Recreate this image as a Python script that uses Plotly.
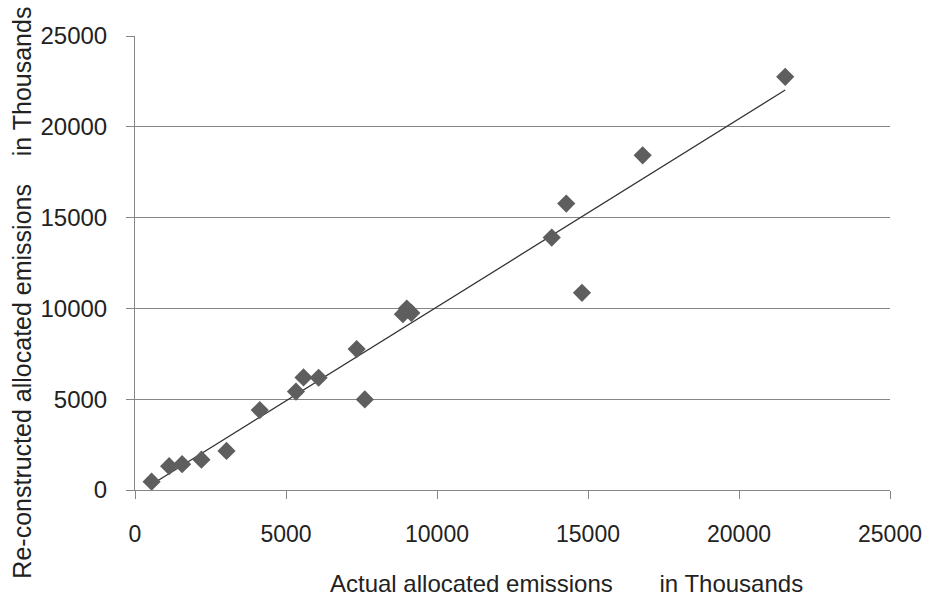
import numpy as np
import plotly.graph_objects as go

# Actual allocated emissions (thousands)
actual = [550, 1130, 1560, 2200, 3030, 4130, 5330, 5580, 6080, 7340, 7610,
          8870, 9000, 9150, 13800, 14280, 14800, 16810, 21530]
# Re-constructed allocated emissions (thousands)
reconstructed = [460, 1310, 1420, 1670, 2150, 4400, 5420, 6200, 6180, 7760, 4990,
                 9680, 9990, 9750, 13900, 15770, 10860, 18430, 22750]
tick_vals = [0, 5000, 10000, 15000, 20000, 25000]
tick_text = ["0", "5000", "10000", "15000", "20000", "25000"]

x_title = "Actual allocated emissions" + "\u00a0" * 7 + "in Thousands"
y_title = "Re-constructed allocated emissions" + "\u00a0" * 4 + "in Thousands"

slope, intercept = np.polyfit(actual, reconstructed, 1)
fit_x = [min(actual), max(actual)]
fit_y = [slope * v + intercept for v in fit_x]

fig = go.Figure()
fig.add_trace(go.Scatter(x=fit_x, y=fit_y, mode="lines",
                         line=dict(color="#333333", width=1.3),
                         hoverinfo="skip", showlegend=False))
fig.add_trace(go.Scatter(x=actual, y=reconstructed, mode="markers",
                         marker=dict(symbol="diamond", size=14, color="#5E5E5E"),
                         showlegend=False))

axis_font = dict(family="Liberation Sans, Arial, sans-serif", color="#222222")
fig.update_layout(
    width=930, height=602,
    margin=dict(l=135, r=40, t=36, b=112, autoexpand=False),
    paper_bgcolor="white", plot_bgcolor="white",
    showlegend=False,
    xaxis=dict(range=[0, 25000], tickvals=tick_vals, ticktext=tick_text,
               showgrid=False, zeroline=False, showline=True,
               linecolor="#868686", linewidth=1,
               ticks="outside", ticklen=8, tickcolor="#868686",
               ticklabelstandoff=15,
               tickfont=dict(size=23, **axis_font)),
    yaxis=dict(range=[0, 25000], tickvals=tick_vals, ticktext=tick_text,
               showgrid=True, gridcolor="#868686", gridwidth=1,
               zeroline=False, showline=True,
               linecolor="#868686", linewidth=1,
               ticks="outside", ticklen=8, tickcolor="#868686",
               ticklabelstandoff=14,
               tickfont=dict(size=24, **axis_font)),
    annotations=[
        dict(text=x_title, xref="paper", yref="paper",
             x=0.2556, y=-0.205, xanchor="left", yanchor="middle",
             showarrow=False, font=dict(size=24, **axis_font)),
        dict(text=y_title, xref="paper", yref="paper", textangle=-90,
             x=-0.1497, y=1.069, xanchor="center", yanchor="top",
             showarrow=False, font=dict(size=25, **axis_font)),
    ],
)

fig.write_html("out.html",
               config={"displayModeBar": False},
               post_script="document.body.style.margin='0px';document.body.style.overflow='hidden';")
